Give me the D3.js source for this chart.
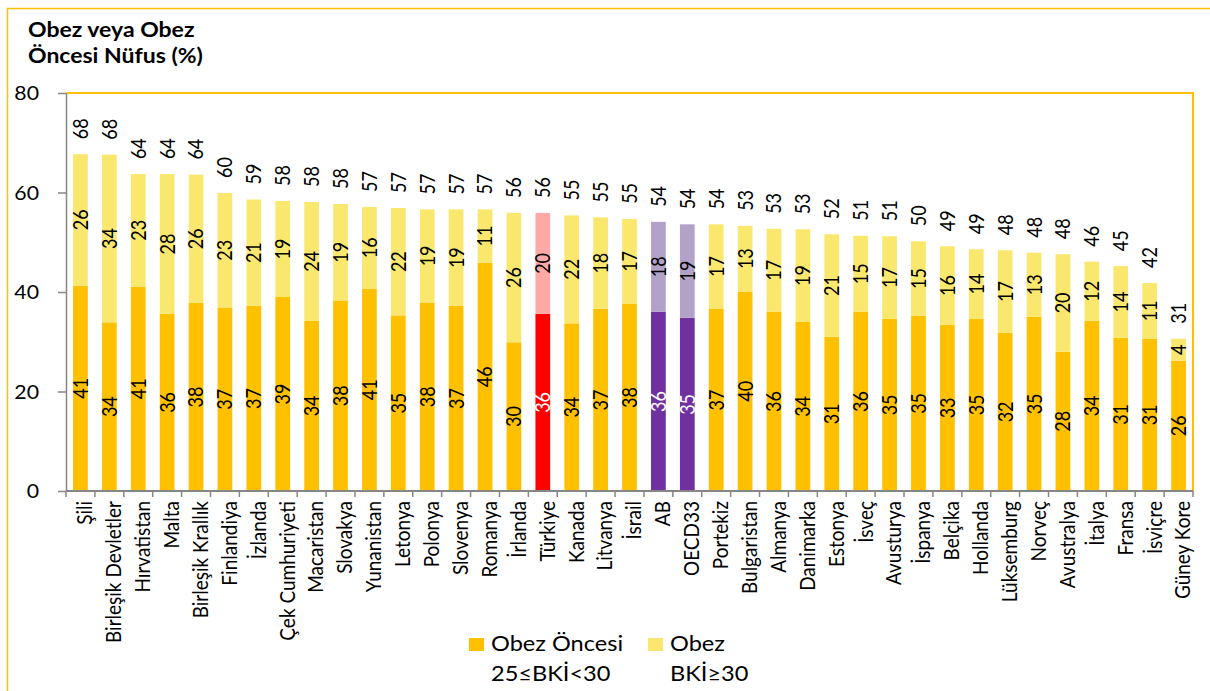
<!DOCTYPE html>
<html>
<head>
<meta charset="utf-8">
<script src="https://cdn.jsdelivr.net/npm/d3@7"></script>
<style>
  body { margin: 0; background: #fff; }
  text { font-family: Lato, "Open Sans", sans-serif; }
</style>
</head>
<body>
<div id="chart"></div>
<script>
// Countries in chart order
const countries = ["Şili", "Birleşik Devletler", "Hırvatistan", "Malta", "Birleşik Krallık",
  "Finlandiya", "İzlanda", "Çek Cumhuriyeti", "Macaristan", "Slovakya", "Yunanistan",
  "Letonya", "Polonya", "Slovenya", "Romanya", "İrlanda", "Türkiye", "Kanada", "Litvanya",
  "İsrail", "AB", "OECD33", "Portekiz", "Bulgaristan", "Almanya", "Danimarka", "Estonya",
  "İsveç", "Avusturya", "İspanya", "Belçika", "Hollanda", "Lüksemburg", "Norveç",
  "Avustralya", "İtalya", "Fransa", "İsviçre", "Güney Kore"];

// Obez öncesi (25<=BKİ<30), %
const preObese = [41.3, 33.9, 41.1, 35.6, 37.8, 36.9, 37.2, 39.0, 34.2, 38.3, 40.7,
  35.3, 37.9, 37.2, 45.9, 29.9, 35.6, 33.7, 36.6, 37.6, 36.0, 34.8, 36.6, 40.1, 36.0,
  34.0, 31.0, 36.0, 34.6, 35.2, 33.4, 34.6, 31.8, 35.0, 28.0, 34.2, 30.8, 30.6, 26.2];

// Obez (BKİ>=30), %
const obese = [26.4, 33.7, 22.6, 28.1, 25.8, 23.0, 21.4, 19.3, 23.9, 19.4, 16.4,
  21.6, 18.7, 19.4, 10.7, 26.0, 20.3, 21.7, 18.4, 17.1, 18.1, 18.8, 17.0, 13.2, 16.7,
  18.6, 20.6, 15.3, 16.6, 15.0, 15.8, 14.0, 16.6, 12.9, 19.6, 11.9, 14.4, 11.2, 4.4];

const yTicks = [0, 20, 40, 60, 80];
const titleLines = ["Obez veya Obez", "Öncesi Nüfus (%)"];
const legendItems = [
  { lines: ["Obez Öncesi", "25≤BKİ<30"], key: "pre" },
  { lines: ["Obez", "BKİ≥30"], key: "ob" }
];

const width = 1210, height = 691;
const S = 1.15; // the reference text is stretched horizontally
const gold = "#FFC000";
const axisGray = "#868686";

const colors = {
  normal: { pre: "#FFC000", ob: "#FAE86E", text: "#000" },
  tr: { pre: "#FF0000", ob: "#FFA8A8", text: "#fff" },
  avg: { pre: "#7030A0", ob: "#B3A2C7", text: "#fff" }
};
function palette(name) {
  if (name === "Türkiye") return colors.tr;
  if (name === "AB" || name === "OECD33") return colors.avg;
  return colors.normal;
}

const data = countries.map((c, i) => ({ name: c, pre: preObese[i], ob: obese[i] }));

const svg = d3.select("#chart").append("svg")
  .attr("width", width)
  .attr("height", height)
  .style("display", "block");

svg.append("rect").attr("width", width).attr("height", height).attr("fill", "#fff");

// outer frame (top + left)
svg.append("path")
  .attr("d", `M7.5,${height} V8.5 H${width}`)
  .attr("fill", "none").attr("stroke", gold).attr("stroke-width", 1.5);

const plot = { left: 66, right: 1193, top: 93, bottom: 491 };

const x = d3.scaleBand()
  .domain(countries)
  .range([plot.left, plot.right])
  .paddingInner(0.49)
  .paddingOuter(0.245);

const y = d3.scaleLinear()
  .domain([0, 80])
  .range([plot.bottom, plot.top]);

// plot border (top + right), gold
svg.append("path")
  .attr("d", `M${plot.left},${plot.top} H${plot.right} V${plot.bottom}`)
  .attr("fill", "none").attr("stroke", gold).attr("stroke-width", 2);

// bars
const g = svg.append("g");
const bars = g.selectAll("g.bar").data(data).enter().append("g").attr("class", "bar");

bars.append("rect")
  .attr("x", d => x(d.name))
  .attr("width", x.bandwidth())
  .attr("y", d => y(d.pre))
  .attr("height", d => y(0) - y(d.pre))
  .attr("fill", d => palette(d.name).pre);

bars.append("rect")
  .attr("x", d => x(d.name))
  .attr("width", x.bandwidth())
  .attr("y", d => y(d.pre + d.ob))
  .attr("height", d => y(d.pre) - y(d.pre + d.ob))
  .attr("fill", d => palette(d.name).ob);

const cx = d => x(d.name) + x.bandwidth() / 2;
const labelFont = 18;

// inside labels: pre-obese
bars.append("text")
  .attr("transform", d => `translate(${cx(d)},${y(d.pre / 2)}) scale(${S},1) rotate(-90)`)
  .attr("text-anchor", "middle")
  .attr("dy", "0.36em")
  .attr("font-size", labelFont)
  .attr("fill", d => palette(d.name).text)
  .text(d => Math.round(d.pre));

// inside labels: obese
bars.append("text")
  .attr("transform", d => `translate(${cx(d)},${y(d.pre + d.ob / 2)}) scale(${S},1) rotate(-90)`)
  .attr("text-anchor", "middle")
  .attr("dy", "0.36em")
  .attr("font-size", labelFont)
  .attr("fill", "#000")
  .text(d => Math.round(d.ob));

// totals above bars
bars.append("text")
  .attr("transform", d => `translate(${cx(d)},${y(d.pre + d.ob) - 15}) scale(${S},1) rotate(-90)`)
  .attr("text-anchor", "start")
  .attr("dy", "0.36em")
  .attr("font-size", labelFont)
  .attr("fill", "#000")
  .text(d => Math.round(d.pre + d.ob));

// Y axis
const yAxis = svg.append("g")
  .attr("transform", `translate(${plot.left},0)`)
  .call(d3.axisLeft(y).tickValues(yTicks).tickSize(8).tickSizeOuter(0));
yAxis.select(".domain").attr("stroke", axisGray).attr("stroke-width", 1.5);
yAxis.selectAll(".tick line").attr("stroke", axisGray).attr("stroke-width", 1.5);
yAxis.selectAll(".tick text")
  .attr("x", null)
  .attr("transform", `translate(-27,0) scale(${S},1)`)
  .attr("dy", "0.36em")
  .attr("font-family", "Lato, sans-serif")
  .attr("font-size", 18.5)
  .attr("fill", "#000");

// X axis: line + ticks at category boundaries
const xAxis = svg.append("g");
xAxis.append("line")
  .attr("x1", plot.left).attr("x2", plot.right)
  .attr("y1", plot.bottom).attr("y2", plot.bottom)
  .attr("stroke", axisGray).attr("stroke-width", 2);
const step = x.step();
const bounds = d3.range(countries.length + 1).map(i => x.range()[0] + i * step);
xAxis.selectAll("line.tk").data(bounds).enter().append("line")
  .attr("class", "tk")
  .attr("x1", d => d).attr("x2", d => d)
  .attr("y1", plot.bottom).attr("y2", plot.bottom + 6)
  .attr("stroke", axisGray).attr("stroke-width", 1.5);

xAxis.selectAll("text").data(countries).enter().append("text")
  .attr("transform", d => `translate(${x(d) + x.bandwidth() / 2 + 4},${plot.bottom + 10}) scale(${S},1) rotate(-90)`)
  .attr("text-anchor", "end")
  .attr("dy", "0.36em")
  .attr("font-size", 19)
  .attr("fill", "#000")
  .text(d => d);

// title
svg.append("g").selectAll("text").data(titleLines).enter().append("text")
  .attr("transform", (d, i) => `translate(28,${37 + i * 26}) scale(${S},1)`)
  .attr("font-size", 20)
  .attr("font-weight", "bold")
  .attr("fill", "#000")
  .text(d => d);

// legend
const legendX = [469, 648];
const lg = svg.append("g").selectAll("g").data(legendItems).enter().append("g")
  .attr("transform", (d, i) => `translate(${legendX[i]},0)`);
lg.append("rect")
  .attr("x", 0).attr("y", 638)
  .attr("width", 15).attr("height", 13)
  .attr("fill", d => colors.normal[d.key]);
lg.each(function(d) {
  d3.select(this).selectAll("text").data(d.lines).enter().append("text")
    .attr("transform", (t, j) => `translate(22,${651 + j * 30}) scale(${S},1)`)
    .attr("font-size", 20.5)
    .attr("fill", "#000")
    .text(t => t);
});
</script>
</body>
</html>
